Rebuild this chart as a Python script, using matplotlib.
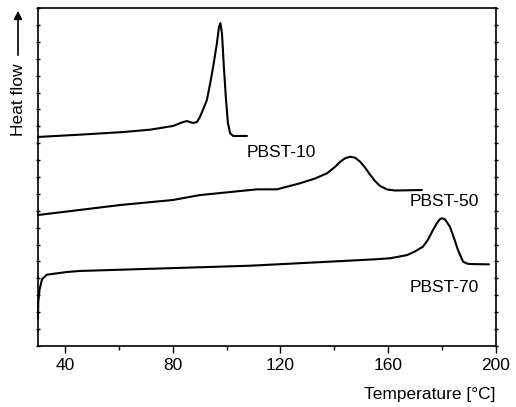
import matplotlib.pyplot as plt
from matplotlib.ticker import MultipleLocator

plt.rcParams['font.family'] = ['Liberation Sans', 'DejaVu Sans']

# --- DSC-Kurven (Heat flow in willk. Einheiten) ---
t_10 = [30, 45, 61.6, 71.6, 80.1, 83.8, 85.3, 87.5, 89.0, 90.1, 91.2, 92.7, 93.8, 95.0,
        96.4, 97.2, 97.7, 98.3, 99.0, 99.8, 100.5, 101.3, 102.4, 107.6]
hf_10 = [12.37, 12.5, 12.66, 12.8, 13.02, 13.25, 13.31, 13.2, 13.25, 13.55, 13.96, 14.56, 15.44, 16.5,
         17.9, 18.9, 19.1, 18.5, 16.5, 14.56, 13.2, 12.6, 12.43, 12.43]

t_50 = [30.0, 60.4, 80.1, 90.1, 105.0, 111.3, 118.7, 127.3, 132.8, 137.3, 140.2, 142.1,
        144.0, 145.8, 147.7, 149.5, 151.4, 153.2, 155.1, 157.0, 159.6, 162.5, 172.5]
hf_50 = [7.75, 8.34, 8.64, 8.93, 9.17, 9.27, 9.27, 9.63, 9.91, 10.22, 10.59, 10.89,
         11.11, 11.20, 11.14, 10.92, 10.56, 10.15, 9.76, 9.47, 9.26, 9.20, 9.23]

t_70 = [30.0, 30.1, 30.6, 31.5, 33.3, 40.8, 45.6, 108.7, 143.2, 155.1, 160.7, 167.0,
        169.9, 172.9, 174.8, 176.6, 178.1, 179.2, 180.0, 181.1, 182.9, 184.4, 185.9,
        187.0, 187.8, 189.2, 190.4, 197.4]
hf_70 = [1.6, 2.6, 3.35, 3.95, 4.22, 4.38, 4.44, 4.75, 5.03, 5.13, 5.19, 5.38,
         5.59, 5.88, 6.30, 6.86, 7.28, 7.51, 7.56, 7.49, 7.06, 6.39, 5.68,
         5.27, 4.99, 4.88, 4.85, 4.83]

labels = ["PBST-10", "PBST-50", "PBST-70"]
label_pos = [(107.6, 11.45), (168.1, 8.55), (168.1, 3.46)]

# --- Plot ---
fig = plt.figure(figsize=(5.16, 4.07), dpi=100)
ax = fig.add_axes([0.0736, 0.1499, 0.8876, 0.8304])

for t, hf in [(t_10, hf_10), (t_50, hf_50), (t_70, hf_70)]:
    ax.plot(t, hf, color="black", lw=1.5, clip_on=False,
            solid_joinstyle="round", solid_capstyle="round")

for lab, (x, y) in zip(labels, label_pos):
    ax.text(x, y, lab, fontsize=12.5, ha="left", va="center")

ax.set_xlim(30, 200)
ax.set_ylim(0, 20)
ax.set_xticks([40, 80, 120, 160, 200])
ax.xaxis.set_minor_locator(MultipleLocator(20))
ax.yaxis.set_major_locator(MultipleLocator(1))
ax.tick_params(axis="x", which="major", direction="out", length=5, width=1, labelsize=12.5, pad=4)
ax.tick_params(axis="x", which="minor", direction="out", length=3, width=1)
ax.tick_params(axis="y", which="major", direction="inout", length=3, width=1,
               left=True, right=True, labelleft=False)
for s in ax.spines.values():
    s.set_linewidth(1.2)

ax.set_xlabel("Temperature [°C]", fontsize=12.5, loc="right", labelpad=10)

# y-Beschriftung mit Pfeil
fig.text(0.0349, 1 - 100 / 407, "Heat flow", rotation=90, fontsize=12.5,
         ha="center", va="center")
ax.annotate("", xy=(0.0349, 1 - 8 / 407), xytext=(0.0349, 1 - 58 / 407),
            xycoords="figure fraction", textcoords="figure fraction",
            arrowprops=dict(arrowstyle="-|>", color="black", lw=1.2, mutation_scale=12))

fig.savefig("out.png", dpi=100)
